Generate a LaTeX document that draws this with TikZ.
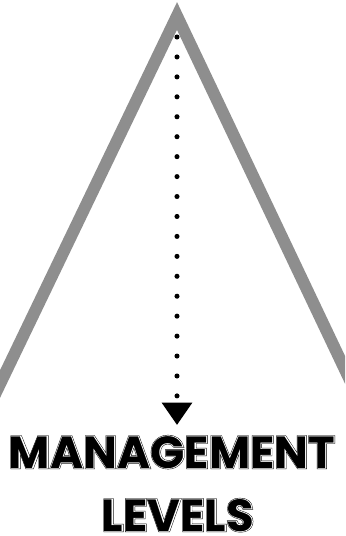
\documentclass[tikz,border=0pt]{standalone}
\usepackage{fontspec}
\setmainfont{Poppins}
\usetikzlibrary{arrows.meta}
\definecolor{sidegray}{HTML}{8E8E8E}
% letters drawn three times: thick black, white inline, black core
\newcommand{\inlinetext}[1]{%
  \rlap{\color{black}\addfontfeature{FakeBold=5}#1}%
  \rlap{\color{white}\addfontfeature{FakeBold=3}#1}%
  {\color{black}#1}}
\tikzset{
  levelside/.style={draw=sidegray,line width=8.5pt,line join=miter},
  dotline/.style={line width=3.6pt,line cap=round,dash pattern=on 0pt off 14.18pt},
  title/.style={font=\fontsize{32}{32}\selectfont\bfseries,inner sep=0pt,anchor=base}
}
\begin{document}
\begin{tikzpicture}[x=0.025cm,y=-0.025cm,>={Triangle[width=21pt,length=16pt]}]
  \useasboundingbox (0,0) rectangle (345,536);
  \clip (0,0) rectangle (345,536);
  \fill[white] (0,0) rectangle (345,536);
  % the pyramid
  \coordinate (apex) at (177,16);
  \coordinate (lefoot) at (-12,409);
  \coordinate (rifoot) at (357,395);
  \draw[levelside] (lefoot) -- (apex) -- (rifoot);
  % labels
  \node[title] (mgmt) at (172,468) {\inlinetext{MANAGEMENT}};
  \node[title] (lvls) at (178,531) {\inlinetext{LEVELS}};
  % arrow down the levels
  \coordinate (top) at (177,37);
  \coordinate (tip) at (177,425);
  \draw[dotline,->] (top) -- (tip);
\end{tikzpicture}
\end{document}
